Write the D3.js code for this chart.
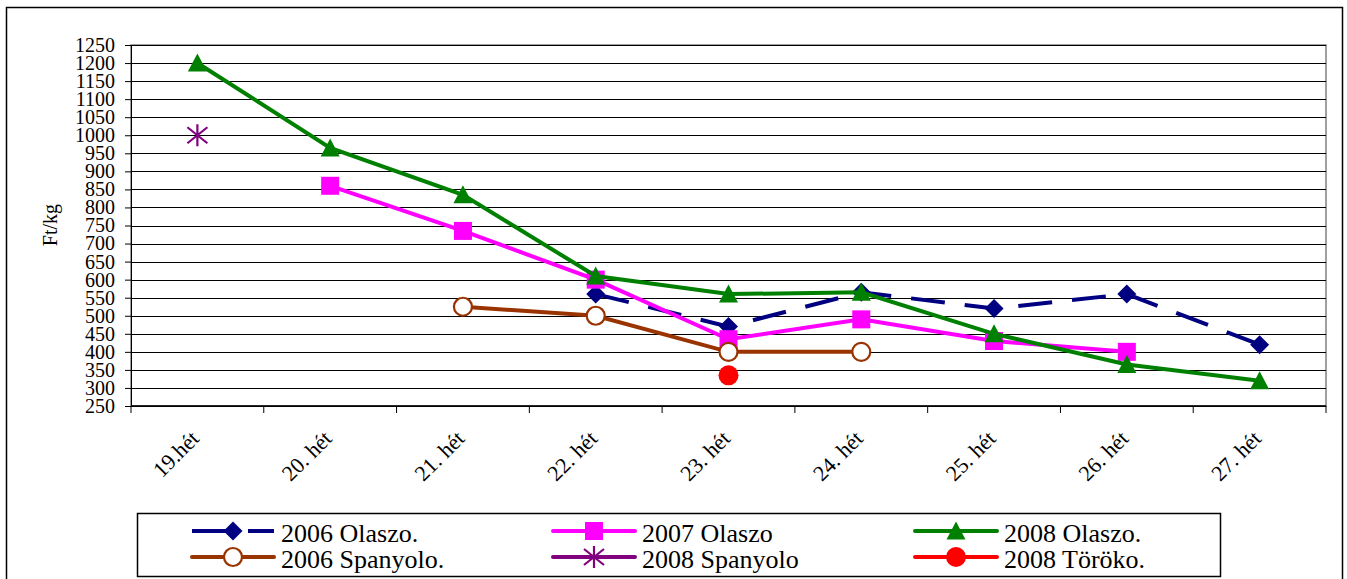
<!DOCTYPE html>
<html>
<head>
<meta charset="utf-8">
<script src="https://cdn.jsdelivr.net/npm/d3@7"></script>
<style>
  body { margin: 0; background: #fff; }
  svg { display: block; font-family: "Liberation Serif", "Times New Roman", serif; }
</style>
</head>
<body>
<div id="vis"></div>
<script>
// Categories and values (null = no data that week)
const weeks = ["19.hét", "20. hét", "21. hét", "22. hét", "23. hét", "24. hét", "25. hét", "26. hét", "27. hét"];
const olasz2006 = [null, null, null, 560, 470, 565, 520, 560, 420];
const olasz2007 = [null, 860, 735, 600, 435, 490, 430, 400, null];
const olasz2008 = [1200, 965, 835, 610, 560, 565, 450, 365, 320];
const spany2006 = [null, null, 525, 500, 400, 400, null, null, null];
const spany2008 = [1000, null, null, null, null, null, null, null, null];
const torok2008 = [null, null, null, null, 335, null, null, null, null];
const yTicks = [250, 300, 350, 400, 450, 500, 550, 600, 650, 700, 750, 800, 850, 900, 950, 1000, 1050, 1100, 1150, 1200, 1250];

const seriesNames = ["2006 Olaszo.", "2007 Olaszo", "2008 Olaszo.", "2006 Spanyolo.", "2008 Spanyolo", "2008 Töröko."];

// Constants for the frame
const FRAME_WIDTH = 1347;
const FRAME_HEIGHT = 579;
const PLOT = {left: 131, right: 1326, top: 45, bottom: 406};

// style per series, same order as seriesNames
const STYLES = [
  {color: "#000080", marker: "diamond", dash: "34,20"},
  {color: "#FF00FF", marker: "square", dash: null},
  {color: "#008000", marker: "triangle", dash: null},
  {color: "#993300", marker: "circleOpen", dash: null},
  {color: "#800080", marker: "star", dash: null},
  {color: "#FF0000", marker: "circle", dash: null}
];
const seriesValues = [olasz2006, olasz2007, olasz2008, spany2006, spany2008, torok2008];

const FRAME = d3.select("#vis")
  .append("svg")
    .attr("width", FRAME_WIDTH)
    .attr("height", FRAME_HEIGHT);

// outer chart border
FRAME.append("rect")
  .attr("x", 6.5).attr("y", 7.5)
  .attr("width", 1336).attr("height", 600)
  .attr("fill", "#fff")
  .attr("stroke", "#000")
  .attr("stroke-width", 1.5);

const X_SCALE = d3.scaleBand()
  .domain(weeks)
  .range([PLOT.left, PLOT.right]);

const Y_SCALE = d3.scaleLinear()
  .domain([250, 1250])
  .range([PLOT.bottom, PLOT.top]);

// plot area border (grey)
FRAME.append("rect")
  .attr("x", PLOT.left).attr("y", PLOT.top)
  .attr("width", PLOT.right - PLOT.left).attr("height", PLOT.bottom - PLOT.top)
  .attr("fill", "none")
  .attr("stroke", "#808080")
  .attr("stroke-width", 1.5);

// horizontal gridlines
FRAME.append("g")
  .selectAll("line")
  .data(yTicks)
  .enter()
  .append("line")
    .attr("x1", PLOT.left).attr("x2", PLOT.right)
    .attr("y1", d => Math.round(Y_SCALE(d)) + 0.5)
    .attr("y2", d => Math.round(Y_SCALE(d)) + 0.5)
    .attr("stroke", "#000")
    .attr("stroke-width", 1);

// y axis
const yAxis = FRAME.append("g")
  .attr("transform", "translate(" + PLOT.left + ",0)")
  .call(d3.axisLeft(Y_SCALE).tickValues(yTicks).tickFormat(d3.format("d"))
          .tickSize(6).tickSizeOuter(0).tickPadding(10))
  .attr("font-size", "20px")
  .attr("font-family", "Liberation Serif, Times New Roman, serif");
yAxis.selectAll("text").attr("fill", "#000");
yAxis.selectAll("line, path").attr("stroke", "#000");

FRAME.append("text")
  .attr("transform", "translate(57,225) rotate(-90)")
  .attr("text-anchor", "middle")
  .attr("font-size", "20px")
  .text("Ft/kg");

// x axis line and boundary ticks
FRAME.append("line")
  .attr("x1", PLOT.left).attr("x2", PLOT.right)
  .attr("y1", PLOT.bottom).attr("y2", PLOT.bottom)
  .attr("stroke", "#000").attr("stroke-width", 1.5);

const bounds = weeks.map(w => X_SCALE(w)).concat([X_SCALE.range()[1]]);
FRAME.append("g")
  .selectAll("line")
  .data(bounds)
  .enter()
  .append("line")
    .attr("x1", d => d).attr("x2", d => d)
    .attr("y1", PLOT.bottom).attr("y2", PLOT.bottom + 7)
    .attr("stroke", "#000");

// rotated category labels
FRAME.append("g")
  .selectAll("text")
  .data(weeks)
  .enter()
  .append("text")
    .attr("transform", d => "translate(" + (X_SCALE(d) + X_SCALE.bandwidth() / 2 + 3) + ",440) rotate(-45)")
    .attr("text-anchor", "end")
    .attr("font-size", "22px")
    .text(d => d);

// draws one marker of a given type at (cx, cy)
function drawMarker(g, type, color, cx, cy) {
  if (type === "diamond") {
    g.append("path")
      .attr("d", "M" + cx + "," + (cy - 9.5) + "L" + (cx + 9.5) + "," + cy + "L" + cx + "," + (cy + 9.5) + "L" + (cx - 9.5) + "," + cy + "Z")
      .attr("fill", color);
  } else if (type === "square") {
    g.append("rect")
      .attr("x", cx - 9).attr("y", cy - 9)
      .attr("width", 18).attr("height", 18)
      .attr("fill", color);
  } else if (type === "triangle") {
    g.append("path")
      .attr("d", "M" + cx + "," + (cy - 9.5) + "L" + (cx + 9.5) + "," + (cy + 8.5) + "L" + (cx - 9.5) + "," + (cy + 8.5) + "Z")
      .attr("fill", color);
  } else if (type === "circleOpen") {
    g.append("circle")
      .attr("cx", cx).attr("cy", cy).attr("r", 9)
      .attr("fill", "#fff")
      .attr("stroke", color).attr("stroke-width", 2.2);
  } else if (type === "circle") {
    g.append("circle")
      .attr("cx", cx).attr("cy", cy).attr("r", 10)
      .attr("fill", color);
  } else if (type === "star") {
    g.append("path")
      .attr("d", "M" + cx + "," + (cy - 11) + "L" + cx + "," + (cy + 11) +
                 "M" + (cx - 10) + "," + (cy - 8) + "L" + (cx + 10) + "," + (cy + 8) +
                 "M" + (cx - 10) + "," + (cy + 8) + "L" + (cx + 10) + "," + (cy - 8))
      .attr("stroke", color).attr("stroke-width", 2.2).attr("fill", "none");
  }
}

const line = d3.line()
  .defined(d => d.v !== null)
  .x(d => X_SCALE(d.w) + X_SCALE.bandwidth() / 2)
  .y(d => Y_SCALE(d.v));

// series: line first, then markers, in legend order
seriesValues.forEach((vals, i) => {
  const st = STYLES[i];
  const pts = weeks.map((w, j) => ({w: w, v: vals[j]}));
  const g = FRAME.append("g");
  g.append("path")
    .datum(pts)
    .attr("d", line)
    .attr("fill", "none")
    .attr("stroke", st.color)
    .attr("stroke-width", 4)
    .attr("stroke-dasharray", st.dash);
  pts.filter(d => d.v !== null).forEach(d => {
    drawMarker(g, st.marker, st.color, X_SCALE(d.w) + X_SCALE.bandwidth() / 2, Y_SCALE(d.v));
  });
});

// legend box
FRAME.append("rect")
  .attr("x", 137.5).attr("y", 513.5)
  .attr("width", 1083).attr("height", 63)
  .attr("fill", "#fff")
  .attr("stroke", "#000")
  .attr("stroke-width", 1.5);

const legendCols = [233, 594, 956];
const legendRows = [531, 557];
seriesNames.forEach((name, i) => {
  const st = STYLES[i];
  const mx = legendCols[i % 3];
  const my = legendRows[Math.floor(i / 3)];
  const g = FRAME.append("g");
  if (st.dash) {
    g.append("line").attr("x1", mx - 41).attr("x2", mx).attr("y1", my).attr("y2", my)
      .attr("stroke", st.color).attr("stroke-width", 4);
    g.append("line").attr("x1", mx + 15).attr("x2", mx + 41).attr("y1", my).attr("y2", my)
      .attr("stroke", st.color).attr("stroke-width", 4);
  } else {
    g.append("line").attr("x1", mx - 41).attr("x2", mx + 41).attr("y1", my).attr("y2", my)
      .attr("stroke", st.color).attr("stroke-width", 4).attr("stroke-linecap", "round");
  }
  drawMarker(g, st.marker, st.color, mx, my);
  g.append("text")
    .attr("x", mx + 48)
    .attr("y", my + 11)
    .attr("font-size", "26px")
    .text(name);
});
</script>
</body>
</html>
